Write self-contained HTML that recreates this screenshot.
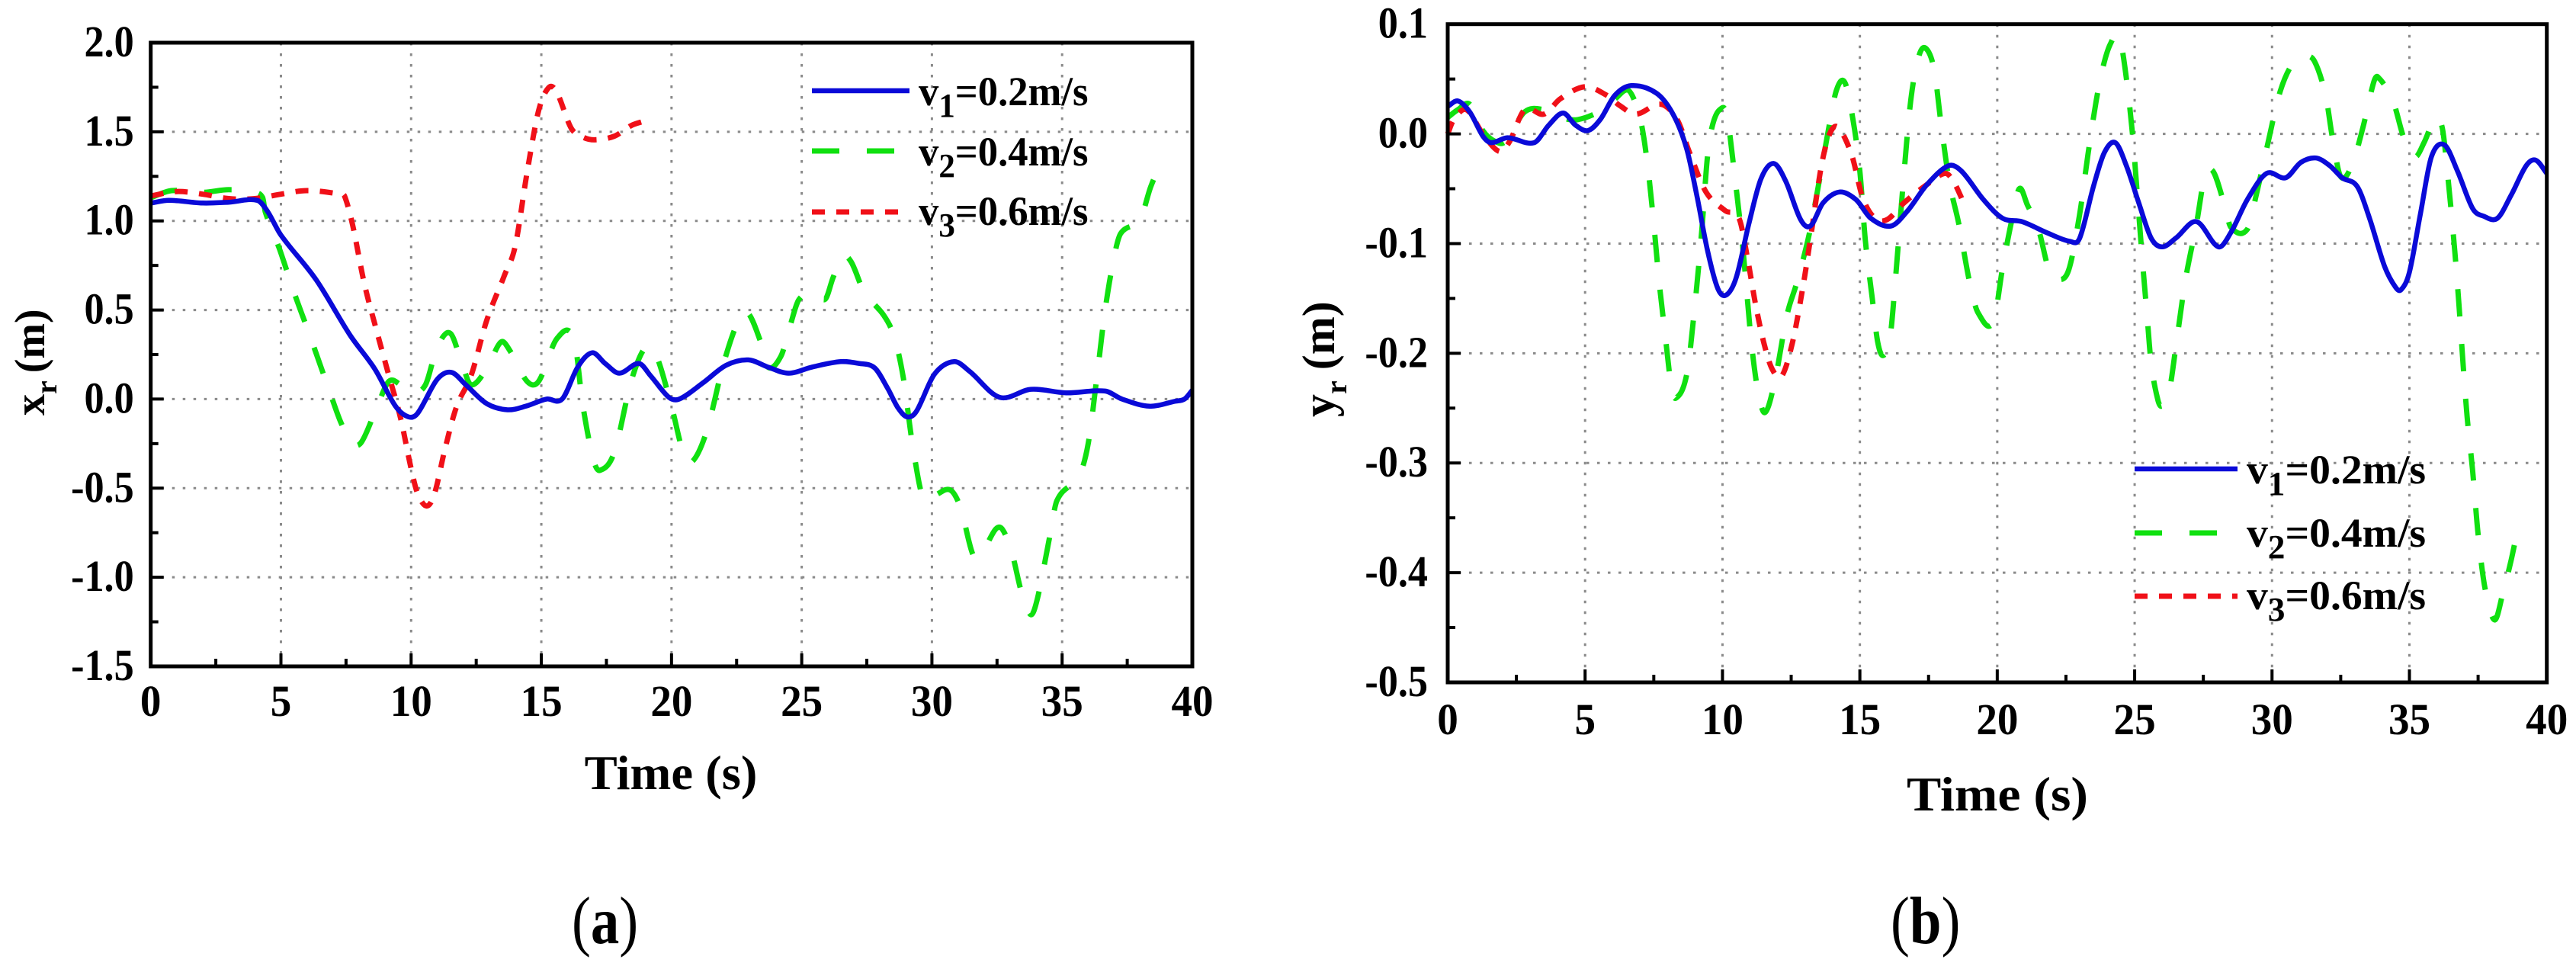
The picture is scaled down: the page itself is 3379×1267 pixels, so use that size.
<!DOCTYPE html>
<html lang="en">
<head>
<meta charset="utf-8">
<title>Lateral and longitudinal error versus time</title>
<style>
html,body{margin:0;padding:0;background:#fff;}
svg{display:block;}
text{font-family:"Liberation Serif",serif;font-weight:bold;fill:#000;}
</style>
</head>
<body>
<svg id="figure" xmlns="http://www.w3.org/2000/svg" width="3379" height="1267" viewBox="0 0 3379 1267"></svg>
<script>
// ---------- shared chart data ----------
const timeTicks = [0, 5, 10, 15, 20, 25, 30, 35, 40];
const timeTickLabels = ["0", "5", "10", "15", "20", "25", "30", "35", "40"];
const legendLabels = ["0.2m/s", "0.4m/s", "0.6m/s"];

// ---------- chart (a): x_r ----------
const xrTicks = [2.0, 1.5, 1.0, 0.5, 0.0, -0.5, -1.0, -1.5];
const xrTickLabels = ["2.0", "1.5", "1.0", "0.5", "0.0", "-0.5", "-1.0", "-1.5"];

const xrV1Time = [0,0.7,2,3,4.1,4.5,5,6.35,7.65,8.6,9.4,9.9,10.25,11,11.55,12.1,12.9,13.7,14.4,15.2,15.8,16.4,16.95,17.45,18,18.75,19.2,19.9,20.3,21.2,22.1,22.95,23.7,24.5,25.4,26.5,27.2,27.8,28.3,28.7,29.05,29.4,30.1,30.85,31.45,32.6,33.8,35.15,36.65,37.3,38.35,39.35,39.7,40];
const xrV1Value = [1.10,1.115,1.10,1.105,1.115,1.05,0.92,0.67,0.36,0.17,-0.04,-0.10,-0.08,0.11,0.15,0.08,-0.025,-0.06,-0.04,0,0,0.18,0.26,0.2,0.145,0.2,0.13,0.01,0,0.09,0.19,0.22,0.18,0.145,0.18,0.21,0.2,0.175,0.06,-0.05,-0.10,-0.07,0.14,0.21,0.155,0.01,0.055,0.035,0.045,0,-0.04,-0.012,0,0.05];

const xrV2Time = [0,0.8,2,3,4,4.3,4.4,4.95,5.5,6.15,6.9,7.3,7.75,8.1,8.7,9.15,9.6,10.05,10.55,11,11.5,11.95,12.3,12.9,13.45,13.8,14.45,14.9,15.6,16.25,16.6,17,17.25,17.8,18.45,19,19.4,20,20.45,20.8,21.35,22,22.6,22.95,23.4,23.7,24.2,24.55,24.9,25.5,25.9,26.2,26.55,26.9,27.4,28.15,28.55,28.9,29.25,29.65,30.1,30.7,31.1,31.6,32,32.45,32.7,33.05,33.45,33.8,34.05,34.5,34.8,35.65,36,36.35,36.65,37,37.25,38,38.4,38.9];
const xrV2Value = [1.13,1.17,1.16,1.175,1.16,1.13,1.05,0.84,0.6,0.34,0.03,-0.13,-0.25,-0.24,-0.04,0.1,0.08,0.035,0.08,0.29,0.37,0.2,0.08,0.17,0.32,0.27,0.1,0.1,0.34,0.34,-0.04,-0.34,-0.4,-0.3,0.1,0.29,0.25,-0.04,-0.3,-0.35,-0.18,0.2,0.45,0.48,0.33,0.18,0.24,0.41,0.56,0.6,0.56,0.68,0.8,0.77,0.6,0.47,0.35,0.12,-0.25,-0.55,-0.54,-0.51,-0.61,-0.88,-0.84,-0.73,-0.73,-0.85,-1.09,-1.21,-1.12,-0.79,-0.57,-0.43,-0.25,0.14,0.5,0.8,0.93,1.01,1.19,1.36];

const xrV3Time = [0,1,2,3,4,5,6,7.3,7.45,7.75,8.2,8.7,9.15,9.6,10,10.25,10.6,10.9,11.3,11.75,12.3,12.9,13.6,14,14.45,14.9,15.3,15.6,16.15,16.6,17.05,17.8,18.45,18.95];
const xrV3Value = [1.14,1.165,1.15,1.125,1.125,1.15,1.17,1.15,1.137,0.98,0.65,0.37,0.13,-0.11,-0.39,-0.53,-0.6,-0.53,-0.28,-0.04,0.13,0.44,0.7,0.86,1.27,1.62,1.75,1.72,1.52,1.47,1.455,1.475,1.535,1.56];

// ---------- chart (b): y_r ----------
const yrTicks = [0.1, 0.0, -0.1, -0.2, -0.3, -0.4, -0.5];
const yrTickLabels = ["0.1", "0.0", "-0.1", "-0.2", "-0.3", "-0.4", "-0.5"];

const yrV1Time = [0,0.37,0.8,1.28,1.58,2.18,3.15,3.68,4.2,4.65,5.1,5.55,6.08,6.68,7.6,8.2,8.7,9.08,9.46,9.83,10.13,10.5,10.96,11.4,11.86,12.3,12.84,13.2,13.66,14.26,14.86,15.4,16.14,16.74,17.45,18.23,18.7,19.5,20.2,20.9,21.8,22.65,23,23.5,23.9,24.3,24.7,25.15,25.6,26,26.5,27.25,28.05,28.5,29.1,29.8,30.5,31.05,31.6,32.1,32.55,33.1,33.55,34.1,34.5,34.7,35,35.4,35.8,36.27,36.75,37.3,37.7,38.2,38.7,39.25,39.6,40];
const yrV1Value = [0.025,0.03,0.02,-0.002,-0.008,-0.0035,-0.008,0.008,0.019,0.008,0.003,0.013,0.035,0.044,0.037,0.018,-0.014,-0.058,-0.107,-0.141,-0.147,-0.131,-0.082,-0.041,-0.027,-0.043,-0.078,-0.084,-0.063,-0.053,-0.06,-0.077,-0.084,-0.07,-0.046,-0.029,-0.034,-0.06,-0.077,-0.08,-0.09,-0.098,-0.095,-0.048,-0.017,-0.008,-0.029,-0.063,-0.095,-0.103,-0.095,-0.08,-0.103,-0.09,-0.06,-0.036,-0.04,-0.026,-0.022,-0.029,-0.04,-0.048,-0.077,-0.121,-0.14,-0.142,-0.126,-0.073,-0.021,-0.01,-0.034,-0.068,-0.075,-0.077,-0.056,-0.029,-0.024,-0.036];

const yrV2Time = [0,0.37,0.8,1.28,1.73,2.1,2.8,3.5,4.1,4.73,5.65,6.1,6.55,6.85,7.08,7.3,7.5,7.7,7.9,8.13,8.3,8.7,9,9.25,9.46,9.65,9.9,10.15,10.45,10.75,11.05,11.3,11.55,11.9,12.35,12.7,13.15,13.55,13.85,14.15,14.45,14.75,15,15.2,15.45,15.65,15.85,16.1,16.3,16.55,16.85,17.15,17.4,17.7,17.95,18.25,18.6,19,19.3,19.85,20.2,20.5,20.8,21.1,21.5,21.9,22.2,22.6,23,23.3,23.6,23.85,24.1,24.4,24.6,24.9,25.15,25.3,25.45,25.6,25.85,26,26.25,26.55,26.85,27.25,27.55,27.85,28.25,28.5,29.1,29.45,29.8,30.3,30.8,31.2,31.55,31.95,32.2,32.5,32.9,33.3,33.7,33.85,34.4,34.8,35.2,35.55,35.95,36.2,36.4,36.65,36.8,36.95,37.1,37.3,37.5,37.75,38.1,38.4,38.7,38.9];
const yrV2Value = [0.015,0.022,0.027,0.003,-0.007,-0.007,0.02,0.022,0.015,0.013,0.022,0.032,0.04,0.027,0.005,-0.034,-0.082,-0.136,-0.18,-0.229,-0.241,-0.219,-0.155,-0.087,-0.019,0.009,0.022,0.018,-0.039,-0.107,-0.19,-0.236,-0.254,-0.226,-0.165,-0.136,-0.092,-0.039,0.003,0.04,0.047,0.013,-0.034,-0.097,-0.15,-0.19,-0.202,-0.185,-0.131,-0.053,0.03,0.071,0.078,0.059,0.01,-0.043,-0.082,-0.136,-0.163,-0.172,-0.121,-0.082,-0.05,-0.065,-0.087,-0.126,-0.133,-0.124,-0.073,-0.019,0.03,0.061,0.081,0.09,0.069,0.005,-0.073,-0.121,-0.165,-0.209,-0.243,-0.248,-0.236,-0.185,-0.133,-0.082,-0.039,-0.034,-0.063,-0.085,-0.087,-0.053,-0.014,0.039,0.066,0.071,0.066,0.035,-0.004,-0.039,-0.029,0.005,0.047,0.052,0.03,-0.004,-0.021,-0.007,0.015,0.005,-0.039,-0.107,-0.155,-0.209,-0.258,-0.307,-0.365,-0.414,-0.443,-0.419,-0.389,-0.365];

const yrV3Time = [0,0.22,0.68,1.28,1.88,2.25,2.8,3.5,4.1,5,5.8,6.25,6.85,7.75,8.35,8.8,9.4,10.1,10.6,10.9,11.2,11.5,11.8,12.15,12.55,12.95,13.25,13.6,13.9,14.2,14.7,15.1,15.55,16,16.6,17.45,18.1,18.4,18.8];
const yrV3Value = [0,0.013,0.022,0,-0.016,-0.007,0.022,0.018,0.032,0.043,0.035,0.026,0.018,0.027,0.013,-0.017,-0.053,-0.07,-0.077,-0.112,-0.155,-0.19,-0.214,-0.221,-0.19,-0.136,-0.087,-0.029,0,0.006,-0.019,-0.058,-0.077,-0.078,-0.063,-0.046,-0.036,-0.043,-0.064];

// ---------- drawing helpers ----------
const NS = "http://www.w3.org/2000/svg";
const svg = document.getElementById("figure");

function el(tag, attrs, parent) {
  const node = document.createElementNS(NS, tag);
  for (const key in attrs) node.setAttribute(key, attrs[key]);
  parent.appendChild(node);
  return node;
}

// Cubic spline along x: tangent slope is the neighbouring chord slope, so unevenly spaced points stay smooth.
function smoothPath(xs, ys) {
  const slope = i => {
    const a = Math.max(i - 1, 0), b = Math.min(i + 1, xs.length - 1);
    return (ys[b] - ys[a]) / (xs[b] - xs[a]);
  };
  let d = "M" + xs[0].toFixed(1) + " " + ys[0].toFixed(1);
  for (let i = 0; i < xs.length - 1; i++) {
    const h = xs[i + 1] - xs[i];
    const c1x = xs[i] + h / 3, c1y = ys[i] + slope(i) * h / 3;
    const c2x = xs[i + 1] - h / 3, c2y = ys[i + 1] - slope(i + 1) * h / 3;
    d += "C" + c1x.toFixed(1) + " " + c1y.toFixed(1) + " " + c2x.toFixed(1) + " " + c2y.toFixed(1) + " " + xs[i + 1].toFixed(1) + " " + ys[i + 1].toFixed(1);
  }
  return d;
}

const seriesStyles = [
  { color: "#0a0ad8", width: 6.5, dash: "none" },
  { color: "#10e010", width: 7, dash: "36 36" },
  { color: "#f01018", width: 7, dash: "17 15" }
];

function drawChart(cfg) {
  const g = el("g", {}, svg);
  
  

  const sx = t => cfg.left + (t - 0) / 40 * (cfg.right - cfg.left);
  const sy = v => cfg.top + (cfg.yMax - v) / (cfg.yMax - cfg.yMin) * (cfg.bottom - cfg.top);

  // grid
  const grid = el("g", { stroke: "#8a8a8a", "stroke-width": 3, "stroke-dasharray": "3.5 10.5", fill: "none" }, g);
  
  
  timeTicks.slice(1, -1).forEach(t => {
    const line = el("line", { x1: sx(t), x2: sx(t), y1: cfg.top, y2: cfg.bottom }, grid);
    
    
  });
  cfg.yTicks.slice(1, -1).forEach(v => {
    const line = el("line", { x1: cfg.left, x2: cfg.right, y1: sy(v), y2: sy(v) }, grid);
    
    
  });

  // series (green, red, then blue on top)
  [1, 2, 0].forEach(i => {
    const times = cfg.series[i][0], values = cfg.series[i][1];
    const style = seriesStyles[i];
    const path = el("path", {
      d: smoothPath(times.map(sx), values.map(sy)),
      fill: "none", stroke: style.color, "stroke-width": style.width,
      "stroke-linejoin": "round", "stroke-dasharray": style.dash
    }, g);
    
    
  });

  // ticks
  const ticks = el("g", { stroke: "#000", "stroke-width": 4, fill: "none" }, g);
  
  
  timeTicks.forEach((t, i) => {
    const major = el("line", { x1: sx(t), x2: sx(t), y1: cfg.bottom, y2: cfg.bottom - 17 }, ticks);
    
    
    if (i < timeTicks.length - 1) {
      const mid = (t + timeTicks[i + 1]) / 2;
      const minor = el("line", { x1: sx(mid), x2: sx(mid), y1: cfg.bottom, y2: cfg.bottom - 10 }, ticks);
      
      
    }
  });
  cfg.yTicks.forEach((v, i) => {
    const major = el("line", { x1: cfg.left, x2: cfg.left + 17, y1: sy(v), y2: sy(v) }, ticks);
    
    
    if (i < cfg.yTicks.length - 1) {
      const mid = (v + cfg.yTicks[i + 1]) / 2;
      const minor = el("line", { x1: cfg.left, x2: cfg.left + 10, y1: sy(mid), y2: sy(mid) }, ticks);
      
      
    }
  });

  // frame
  const frame = el("rect", {
    x: cfg.left, y: cfg.top, width: cfg.right - cfg.left, height: cfg.bottom - cfg.top,
    fill: "none", stroke: "#000", "stroke-width": 5
  }, g);
  
  

  // tick labels
  cfg.yTickLabels.forEach((label, i) => {
    const tx = cfg.left - cfg.yLabelGap, ty = sy(cfg.yTicks[i]) + 18;
    const text = el("text", { "font-size": 58, "text-anchor": "end", transform: "translate(" + tx + " " + ty + ") scale(0.9 1)" }, g);
    text.textContent = label;
    
    
  });
  timeTickLabels.forEach((label, i) => {
    const tx = sx(timeTicks[i]), ty = cfg.xLabelBase;
    const text = el("text", { "font-size": 58, "text-anchor": "middle", transform: "translate(" + tx + " " + ty + ") scale(0.95 1)" }, g);
    text.textContent = label;
    
    
  });

  // x axis title
  const xTitle = el("text", {
    "font-size": 64, "text-anchor": "middle",
    transform: "translate(" + cfg.xTitleX + " " + cfg.xTitleY + ") scale(" + cfg.xTitleScale + " 1)"
  }, g);
  xTitle.textContent = "Time (s)";
  
  

  // y axis title
  const yTitle = el("text", {
    "font-size": cfg.yTitleSize,
    transform: "translate(" + cfg.yTitleX + " " + cfg.yTitleY + ") rotate(-90)"
  }, g);
  
  
  const yMain = el("tspan", {}, yTitle);
  yMain.textContent = cfg.yTitleLetter;
  const ySub = el("tspan", { "font-size": 40, dy: 16 }, yTitle);
  ySub.textContent = "r";
  const yUnit = el("tspan", { dy: -16, dx: cfg.yTitleGap }, yTitle);
  yUnit.textContent = "(m)";

  // legend
  const legend = el("g", {}, g);
  
  
  legendLabels.forEach((label, i) => {
    const style = seriesStyles[i];
    const key = el("line", {
      x1: cfg.legendLineX1, x2: cfg.legendLineX2, y1: cfg.legendLineY[i], y2: cfg.legendLineY[i],
      stroke: style.color, "stroke-width": style.width, "stroke-linecap": "butt", "stroke-dasharray": style.dash
    }, legend);
    
    
    const text = el("text", {
      "font-size": 54,
      transform: "translate(" + cfg.legendTextX + " " + cfg.legendTextY[i] + ") scale(" + cfg.legendScale + " 1)"
    }, legend);
    
    
    const v = el("tspan", {}, text);
    v.textContent = "v";
    const sub = el("tspan", { "font-size": 44, dy: 15 }, text);
    sub.textContent = String(i + 1);
    const rest = el("tspan", { dy: -15 }, text);
    rest.textContent = "=" + label;
  });

  // panel caption
  const cap = el("text", {
    "font-size": 88,
    transform: "translate(" + cfg.captionX + " 1237) scale(0.85 1)"
  }, svg);
  
  
  const open = el("tspan", { "font-weight": "normal" }, cap);
  open.textContent = "(";
  const letter = el("tspan", {}, cap);
  letter.textContent = cfg.captionLetter;
  const close = el("tspan", { "font-weight": "normal" }, cap);
  close.textContent = ")";
}

drawChart({
  name: "chart-a", left: 197.7, right: 1564, top: 56, bottom: 874,
  yMax: 2.0, yMin: -1.5, yTicks: xrTicks, yTickLabels: xrTickLabels,
  series: [[xrV1Time, xrV1Value], [xrV2Time, xrV2Value], [xrV3Time, xrV3Value]],
  yLabelGap: 22, xLabelBase: 939,
  xTitleX: 880, xTitleY: 1035, xTitleScale: 1.01,
  yTitleX: 58, yTitleY: 545, yTitleLetter: "x", yTitleSize: 56, yTitleGap: 10,
  legendLineX1: 1065, legendLineX2: 1193, legendLineY: [119, 198, 278],
  legendTextX: 1205, legendTextY: [138, 217, 295], legendScale: 0.975,
  captionX: 750, captionLetter: "a", captionName: "caption-a"
});

drawChart({
  name: "chart-b", left: 1899, right: 3340.7, top: 31.7, bottom: 895,
  yMax: 0.1, yMin: -0.5, yTicks: yrTicks, yTickLabels: yrTickLabels,
  series: [[yrV1Time, yrV1Value], [yrV2Time, yrV2Value], [yrV3Time, yrV3Value]],
  yLabelGap: 26, xLabelBase: 963,
  xTitleX: 2620, xTitleY: 1063, xTitleScale: 1.06,
  yTitleX: 1750, yTitleY: 547, yTitleLetter: "y", yTitleSize: 60, yTitleGap: 14,
  legendLineX1: 2800, legendLineX2: 2935, legendLineY: [615, 699, 782],
  legendTextX: 2947, legendTextY: [634, 717, 799], legendScale: 1.03,
  captionX: 2480, captionLetter: "b", captionName: "caption-b"
});
</script>
</body>
</html>
